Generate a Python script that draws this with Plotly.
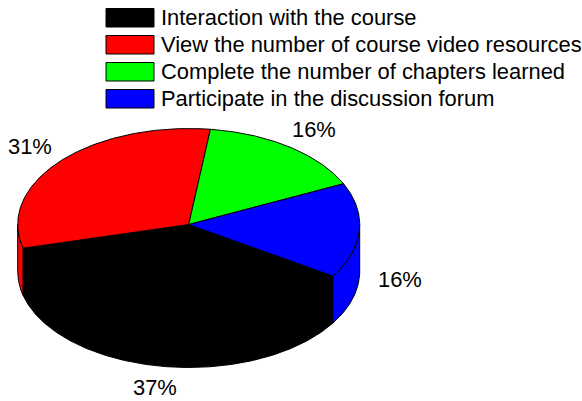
import numpy as np
import plotly.graph_objects as go

categories = ["Interaction with the course", "View the number of course video resources",
              "Complete the number of chapters learned", "Participate in the discussion forum"]
values = [37, 31, 16, 16]
colors = ["#000000", "#ff0000", "#00ff00", "#0000ff"]

W, H = 582, 401
CX, CY, RX, RY, DEPTH = 188.7, 224.5, 171, 96, 47
START = 122.5  # clockwise from 12 o'clock
LABEL_KX, LABEL_KY = 1.24, 1.22
LEG_X0, LEG_X1, LEG_TEXT_X, LEG_Y0, LEG_STEP, LEG_H = 106, 154, 161, 8.5, 27, 18.5


def arc(a0, a1, dy=0.0):
    t = np.radians(np.linspace(a0, a1, max(int(abs(a1 - a0)) * 2, 2)))
    return CX + RX * np.sin(t), CY - RY * np.cos(t) + dy


shares = np.array(values, dtype=float) / sum(values) * 360
edges = START + np.concatenate([[0], np.cumsum(shares)])

fig = go.Figure()
OUT = dict(color="#000000", width=1)


def poly(x, y, color):
    fig.add_trace(go.Scatter(x=list(x) + [x[0]], y=list(y) + [y[0]], mode="lines", fill="toself",
                             fillcolor=color, line=OUT, hoverinfo="skip", showlegend=False))


# side walls: only the part of each slice on the near half of the ellipse
for i, c in enumerate(colors):
    for k in (0, 360):
        a0 = max(edges[i], 90 + k)
        a1 = min(edges[i + 1], 270 + k)
        if a1 > a0:
            xt, yt = arc(a0, a1)
            xb, yb = arc(a1, a0, DEPTH)
            poly(np.concatenate([xt, xb]), np.concatenate([yt, yb]), c)

# top faces
for i, c in enumerate(colors):
    xt, yt = arc(edges[i], edges[i + 1])
    poly(np.concatenate([[CX], xt]), np.concatenate([[CY], yt]), c)

shapes = []
annotations = []
FONT = dict(family="Liberation Sans, Arial, sans-serif", size=21.9, color="#000000")

for i, (name, c) in enumerate(zip(categories, colors)):
    y0 = LEG_Y0 + i * LEG_STEP
    shapes.append(dict(type="rect", xref="x", yref="y", x0=LEG_X0, x1=LEG_X1, y0=y0, y1=y0 + LEG_H,
                       fillcolor=c, line=dict(color="#000000", width=1)))
    annotations.append(dict(x=LEG_TEXT_X, y=y0 + LEG_H / 2, xref="x", yref="y", text=name, showarrow=False,
                            xanchor="left", yanchor="middle", font=FONT, borderpad=0, borderwidth=0))

for i, v in enumerate(values):
    mid = (edges[i] + edges[i + 1]) / 2
    t = np.radians(mid)
    lx = CX + LABEL_KX * RX * np.sin(t)
    ly = CY - LABEL_KY * RY * np.cos(t) + (DEPTH if np.cos(t) < 0 else 0)
    annotations.append(dict(x=lx, y=ly, xref="x", yref="y", text=f"{v}%", showarrow=False,
                            xanchor="center", yanchor="middle", font=FONT))

fig.update_layout(
    width=W, height=H, margin=dict(l=0, r=0, t=0, b=0),
    paper_bgcolor="#ffffff", plot_bgcolor="#ffffff", showlegend=False,
    xaxis=dict(range=[0, W], visible=False, fixedrange=True),
    yaxis=dict(range=[H, 0], visible=False, fixedrange=True),
    shapes=shapes, annotations=annotations,
)
fig.write_html("out.html", config=dict(displayModeBar=False), default_width=f"{W}px", default_height=f"{H}px",
               include_plotlyjs=True, post_script="document.body.style.margin='0';")
